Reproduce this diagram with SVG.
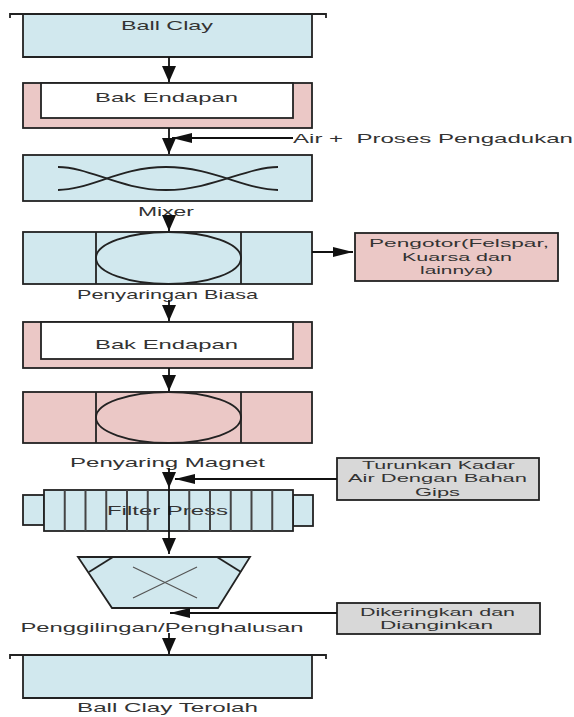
<svg xmlns="http://www.w3.org/2000/svg" width="574" height="717" viewBox="0 0 574 717">
<style>
.t{font-family:"Liberation Sans",Arial,sans-serif;fill:#333;font-size:13px;text-anchor:middle}
.s{font-size:11px}
.b{fill:#d1e8ee;stroke:#222;stroke-width:1.8}
.p{fill:#ebc8c6;stroke:#222;stroke-width:1.8}
.w{fill:#fff;stroke:#222;stroke-width:1.8}
.g{fill:#d8d8d8;stroke:#222;stroke-width:1.8}
.ln{fill:none;stroke:#222;stroke-width:1.8}
.c{fill:none;stroke:#111;stroke-width:1.8}
</style>
<defs>
<marker id="ad" markerUnits="userSpaceOnUse" markerWidth="18" markerHeight="14" refX="16" refY="7" orient="auto"><path d="M0,0 L16,7 L0,14 z" fill="#111"/></marker>
<marker id="as" markerUnits="userSpaceOnUse" markerWidth="20" markerHeight="10" refX="20" refY="5" orient="auto"><path d="M0,0 L20,5 L0,10 z" fill="#111"/></marker>
</defs>

<g id="ballclay">
<rect x="23" y="14" width="289" height="43" fill="#d1e8ee"/>
<path class="ln" d="M23,14 V57 H312 V14"/>
<path class="ln" d="M10,18 V14 H326 V18"/>
<text class="t" x="167" y="30" textLength="92" lengthAdjust="spacingAndGlyphs">Ball Clay</text>
</g>

<g id="bak1">
<rect class="p" x="23" y="83" width="289" height="45"/>
<rect class="w" x="41" y="83" width="252" height="35"/>
<text class="t" x="166.5" y="102" textLength="143" lengthAdjust="spacingAndGlyphs">Bak Endapan</text>
</g>

<g id="air">
<text class="t" x="433" y="143" font-size="12" textLength="280" lengthAdjust="spacingAndGlyphs">Air +&#160; Proses Pengadukan</text>
</g>

<g id="mixer">
<rect class="b" x="23" y="155" width="289" height="46"/>
<path class="ln" d="M58,167 C90,167 120,190 166,190 C212,190 246,167 278,167"/>
<path class="ln" d="M58,190 C90,190 120,167 166,167 C212,167 246,190 278,190"/>
<text class="t" x="166" y="216" textLength="56" lengthAdjust="spacingAndGlyphs">Mixer</text>
</g>

<g id="penyaringan">
<rect class="b" x="23" y="232" width="289" height="52"/>
<line class="ln" x1="96" y1="232" x2="96" y2="284"/>
<line class="ln" x1="241" y1="232" x2="241" y2="284"/>
<ellipse class="ln" cx="168.5" cy="258" rx="72.5" ry="26"/>
<text class="t" x="167.5" y="299" textLength="181" lengthAdjust="spacingAndGlyphs">Penyaringan Biasa</text>
</g>

<g id="pengotor">
<rect class="p" x="355" y="233" width="203" height="48"/>
<text class="t s" x="459" y="247" textLength="180" lengthAdjust="spacingAndGlyphs">Pengotor(Felspar,</text>
<text class="t s" x="457" y="261" textLength="110" lengthAdjust="spacingAndGlyphs">Kuarsa dan</text>
<text class="t s" x="456.5" y="274" textLength="73" lengthAdjust="spacingAndGlyphs">lainnya)</text>
</g>

<g id="bak2">
<rect class="p" x="23" y="322" width="289" height="46"/>
<rect class="w" x="41" y="322" width="252" height="37"/>
<text class="t" x="166.5" y="349" textLength="143" lengthAdjust="spacingAndGlyphs">Bak Endapan</text>
</g>

<g id="magnet">
<rect class="p" x="23" y="392" width="289" height="51"/>
<line class="ln" x1="96" y1="392" x2="96" y2="443"/>
<line class="ln" x1="241" y1="392" x2="241" y2="443"/>
<ellipse class="ln" cx="168.5" cy="417.5" rx="72.5" ry="25.5"/>
<text class="t" x="167.5" y="467" textLength="195" lengthAdjust="spacingAndGlyphs">Penyaring Magnet</text>
</g>

<g id="turunkan">
<rect class="g" x="337" y="458" width="202" height="42"/>
<text class="t s" x="438.5" y="469" textLength="153" lengthAdjust="spacingAndGlyphs">Turunkan Kadar</text>
<text class="t s" x="437.5" y="482" textLength="179" lengthAdjust="spacingAndGlyphs">Air Dengan Bahan</text>
<text class="t s" x="437.5" y="496" textLength="45" lengthAdjust="spacingAndGlyphs">Gips</text>
</g>

<g id="filterpress">
<rect class="b" x="23" y="495" width="21" height="30" stroke-width="1.4"/>
<rect class="b" x="293" y="495" width="20" height="31" stroke-width="1.4"/>
<rect class="b" x="44" y="490" width="249" height="41"/>
<text class="t" x="167.5" y="515" textLength="121" lengthAdjust="spacingAndGlyphs">Filter Press</text>
<g stroke="#444" stroke-width="2">
<line x1="64.75" y1="490" x2="64.75" y2="531"/>
<line x1="85.5" y1="490" x2="85.5" y2="531"/>
<line x1="106.25" y1="490" x2="106.25" y2="531"/>
<line x1="127" y1="490" x2="127" y2="531"/>
<line x1="147.75" y1="490" x2="147.75" y2="531"/>
<line x1="189.25" y1="490" x2="189.25" y2="531"/>
<line x1="210" y1="490" x2="210" y2="531"/>
<line x1="230.75" y1="490" x2="230.75" y2="531"/>
<line x1="251.5" y1="490" x2="251.5" y2="531"/>
<line x1="272.25" y1="490" x2="272.25" y2="531"/>
</g>
</g>

<g id="penggilingan">
<path class="b" d="M78,557 H250 L218,608 H112 Z" stroke-width="1.6"/>
<line class="ln" x1="113" y1="557" x2="89" y2="572" stroke-width="1.4"/>
<line class="ln" x1="217" y1="557" x2="241" y2="572" stroke-width="1.4"/>
<line x1="133" y1="567" x2="197" y2="598" stroke="#555" stroke-width="1.2"/>
<line x1="133" y1="598" x2="197" y2="567" stroke="#555" stroke-width="1.2"/>
<text class="t" x="162" y="632" textLength="283" lengthAdjust="spacingAndGlyphs">Penggilingan/Penghalusan</text>
</g>

<g id="dikeringkan">
<rect class="g" x="337" y="603" width="203" height="31"/>
<text class="t s" x="437.5" y="616" textLength="155" lengthAdjust="spacingAndGlyphs">Dikeringkan dan</text>
<text class="t s" x="436.5" y="629" textLength="113" lengthAdjust="spacingAndGlyphs">Dianginkan</text>
</g>

<g id="ballclayterolah">
<rect x="23" y="655" width="289" height="43" fill="#d1e8ee"/>
<path class="ln" d="M23,655 V698 H312 V655"/>
<path class="ln" d="M10,659 V655 H326 V659"/>
<text class="t" x="167.5" y="712" font-size="12" textLength="181" lengthAdjust="spacingAndGlyphs">Ball Clay Terolah</text>
</g>

<g id="connectors">
<line class="c" x1="169" y1="57" x2="169" y2="82" marker-end="url(#ad)"/>
<line class="c" x1="169" y1="128" x2="169" y2="154" marker-end="url(#ad)"/>
<line class="c" x1="293" y1="138" x2="172" y2="138" marker-end="url(#as)"/>
<line class="c" x1="169" y1="218" x2="169" y2="231" marker-end="url(#ad)"/>
<line class="c" x1="312" y1="252" x2="353" y2="252" marker-end="url(#as)"/>
<line class="c" x1="169" y1="300" x2="169" y2="321" marker-end="url(#ad)"/>
<line class="c" x1="169" y1="368" x2="169" y2="391" marker-end="url(#ad)"/>
<line class="c" x1="169" y1="468" x2="169" y2="488" marker-end="url(#ad)"/>
<line class="c" x1="169" y1="488" x2="169" y2="554" marker-end="url(#ad)"/>
<line class="c" x1="337" y1="479" x2="175" y2="479" marker-end="url(#as)"/>
<line class="c" x1="337" y1="613" x2="170" y2="613" marker-end="url(#as)"/>
<line class="c" x1="169" y1="633" x2="169" y2="654" marker-end="url(#ad)"/>
</g>
</svg>
